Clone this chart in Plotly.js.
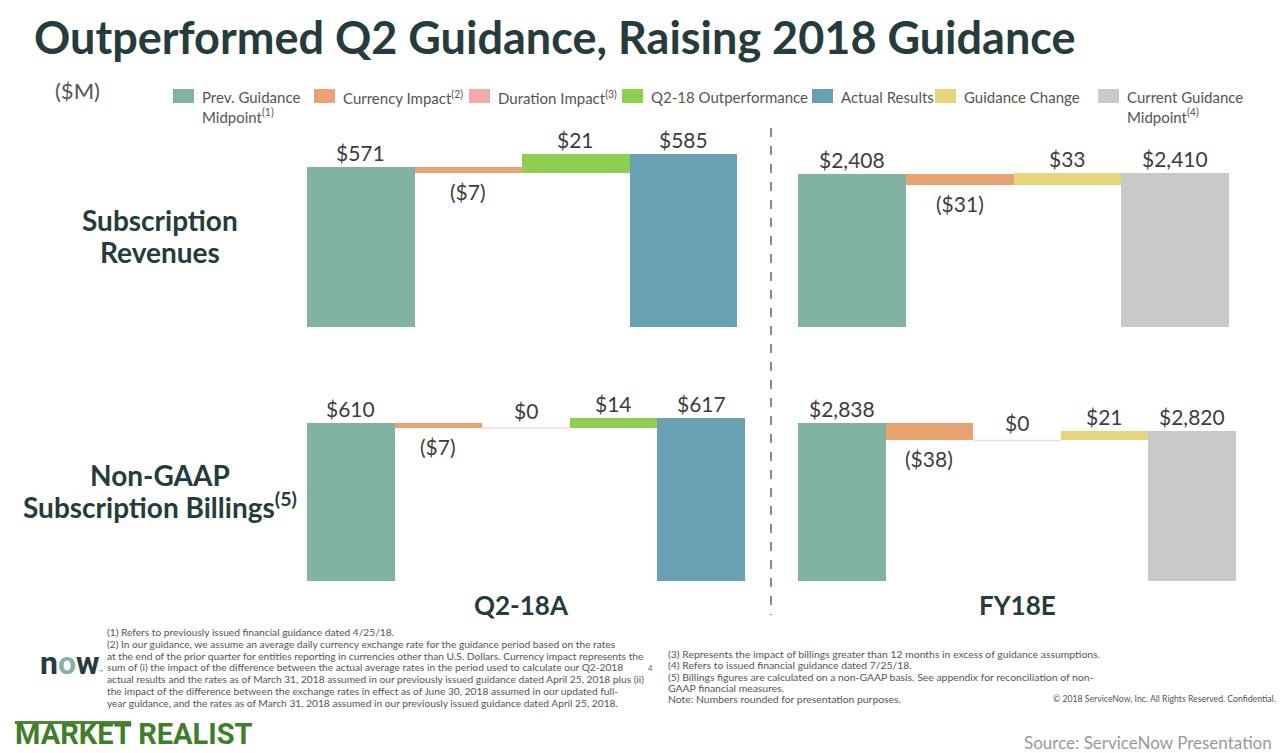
<!DOCTYPE html>
<html>
<head>
<meta charset="utf-8">
<script src="https://cdn.plot.ly/plotly-3.0.1.min.js"></script>
<style>
  html, body { margin: 0; padding: 0; background: #ffffff; }
  #chart { width: 1280px; height: 753px; }
</style>
</head>
<body>
<div id="chart"></div>
<script>
// ---------------- DATA ----------------
const legendNames = ['Prev. Guidance<br>Midpoint<sup>(1)</sup>', 'Currency Impact<sup>(2)</sup>', 'Duration Impact<sup>(3)</sup>',
  'Q2-18 Outperformance', 'Actual Results', 'Guidance Change', 'Current Guidance<br>Midpoint<sup>(4)</sup>'];
const legendKeys = ['prev', 'currency', 'duration', 'outperf', 'actual', 'change', 'current'];

// Subscription revenues, Q2-18A
const q2RevKinds = ['prev', 'currency', 'outperf', 'actual'];
const q2RevMeasures = ['absolute', 'relative', 'relative', 'total'];
const q2RevValues = [571, -7, 21, 585];

// Subscription revenues, FY18E
const fyRevKinds = ['prev', 'currency', 'change', 'current'];
const fyRevMeasures = ['absolute', 'relative', 'relative', 'total'];
const fyRevValues = [2408, -31, 33, 2410];

// Non-GAAP subscription billings, Q2-18A
const q2BillKinds = ['prev', 'currency', 'duration', 'outperf', 'actual'];
const q2BillMeasures = ['absolute', 'relative', 'relative', 'relative', 'total'];
const q2BillValues = [610, -7, 0, 14, 617];

// Non-GAAP subscription billings, FY18E
const fyBillKinds = ['prev', 'currency', 'duration', 'change', 'current'];
const fyBillMeasures = ['absolute', 'relative', 'relative', 'relative', 'total'];
const fyBillValues = [2838, -38, 0, 21, 2820];

const rowLabels = [['Subscription', 'Revenues'], ['Non-GAAP', 'Subscription Billings<sup>(5)</sup>']];
const colLabels = ['Q2-18A', 'FY18E'];

const noteLeft = [
  '(1) Refers to previously issued financial guidance dated 4/25/18.',
  '(2) In our guidance, we assume an average daily currency exchange rate for the guidance period based on the rates',
  'at the end of the prior quarter for entities reporting in currencies other than U.S. Dollars. Currency impact represents the',
  'sum of (i) the impact of the difference between the actual average rates in the period used to calculate our Q2-2018',
  'actual results and the rates as of March 31, 2018 assumed in our previously issued guidance dated April 25, 2018 plus (ii)',
  'the impact of the difference between the exchange rates in effect as of June 30, 2018 assumed in our updated full-',
  'year guidance, and the rates as of March 31, 2018 assumed in our previously issued guidance dated April 25, 2018.'
];
const noteRight = [
  '(3) Represents the impact of billings greater than 12 months in excess of guidance assumptions.',
  '(4) Refers to issued financial guidance dated 7/25/18.',
  '(5) Billings figures are calculated on a non-GAAP basis. See appendix for reconciliation of non-',
  'GAAP financial measures.',
  'Note: Numbers rounded for presentation purposes.'
];

// ---------------- STYLE ----------------
const colors = {
  prev: '#80b4a0', currency: '#eba272', duration: '#f3aaaa', outperf: '#8fcf4f',
  actual: '#67a1b3', change: '#e6d679', current: '#c9c9c9'
};
const FONT = 'Lato, "Open Sans", sans-serif';
const DARK = '#263c3c';
const LABEL = '#3d3d3d';
const W = 1280, H = 753;
const px = x => x / W;
const py = y => 1 - y / H;

function fmt(v) {
  const s = '$' + Math.abs(v).toLocaleString('en-US');
  return v < 0 ? '(' + s + ')' : s;
}

const panels = [
  { kinds: q2RevKinds, measures: q2RevMeasures, values: q2RevValues, xa: 'x', ya: 'y' },
  { kinds: fyRevKinds, measures: fyRevMeasures, values: fyRevValues, xa: 'x2', ya: 'y2' },
  { kinds: q2BillKinds, measures: q2BillMeasures, values: q2BillValues, xa: 'x3', ya: 'y3' },
  { kinds: fyBillKinds, measures: fyBillMeasures, values: fyBillValues, xa: 'x4', ya: 'y4' }
];

const traces = [];
const annotations = [];
const shapes = [];
const LBL = { family: FONT, size: 21, color: LABEL };

panels.forEach(p => {
  let running = 0;
  const bases = [], ys = [];
  const x = p.kinds.map((k, i) => i);
  p.values.forEach((v, i) => {
    const m = p.measures[i];
    if (m === 'relative') {
      bases.push(running); ys.push(v);
      running += v;
    } else {
      bases.push(0); ys.push(v);
      running = v;
    }
    const top = m === 'relative' ? Math.max(bases[i], bases[i] + v) : v;
    const bot = m === 'relative' ? Math.min(bases[i], bases[i] + v) : v;
    if (v < 0) {
      annotations.push({ xref: p.xa, yref: p.ya, x: i, y: bot, yanchor: 'top', yshift: -4,
        text: fmt(v), showarrow: false, font: LBL });
    } else if (v === 0) {
      annotations.push({ xref: p.xa, yref: p.ya, x: i, y: top, yanchor: 'bottom', yshift: 3,
        text: fmt(v), showarrow: false, font: LBL });
      shapes.push({ type: 'line', xref: p.xa, yref: p.ya, x0: i - 0.5, x1: i + 0.5, y0: top, y1: top,
        line: { color: '#f6d9d9', width: 1.5 } });
    } else {
      annotations.push({ xref: p.xa, yref: p.ya, x: i, y: top, yanchor: 'bottom', yshift: 0,
        text: fmt(v), showarrow: false, font: LBL });
    }
  });
  traces.push({
    type: 'bar', x: x, y: ys, base: bases, xaxis: p.xa, yaxis: p.ya,
    marker: { color: p.kinds.map(k => colors[k]), line: { width: 0 } },
    hoverinfo: 'skip', showlegend: false
  });
});

// ---------------- CUSTOM LEGEND ----------------
const legendX = [173, 314, 469, 622, 812, 935, 1098];
legendKeys.forEach((k, i) => {
  shapes.push({ type: 'rect', xref: 'paper', yref: 'paper',
    x0: px(legendX[i]), x1: px(legendX[i] + 21), y0: py(103), y1: py(89),
    fillcolor: colors[k], line: { width: 0 } });
  annotations.push({ xref: 'paper', yref: 'paper', x: px(legendX[i] + 27), y: py(86),
    xanchor: 'left', yanchor: 'top', align: 'left', showarrow: false,
    text: legendNames[i], font: { family: FONT, size: 15, color: '#555555' } });
});

// ---------------- OTHER TEXT ----------------
const texts = [
  { x: 53, y: 90, t: '($M)', size: 22, color: '#555555', xa: 'left' },
  { x: 160, y: 220, t: '<b>' + rowLabels[0][0] + '</b>', size: 28, color: DARK, xa: 'center' },
  { x: 160, y: 252, t: '<b>' + rowLabels[0][1] + '</b>', size: 28, color: DARK, xa: 'center' },
  { x: 160, y: 475, t: '<b>' + rowLabels[1][0] + '</b>', size: 28, color: DARK, xa: 'center' },
  { x: 160, y: 506, t: '<b>' + rowLabels[1][1] + '</b>', size: 28, color: DARK, xa: 'center' },
  { x: 521, y: 605, t: '<b>' + colLabels[0] + '</b>', size: 26, color: DARK, xa: 'center' },
  { x: 1017, y: 605, t: '<b>' + colLabels[1] + '</b>', size: 26, color: DARK, xa: 'center' },
  { x: 650, y: 668, t: '4', size: 8, color: '#666666', xa: 'center' },
  { x: 1278, y: 698, t: '© 2018 ServiceNow, Inc. All Rights Reserved. Confidential.', size: 8.7, color: '#555555', xa: 'right' },
  { x: 38, y: 663, t: '<b>n<span style="color:#81b5a1">o</span>w</b><span style="font-size:6px">™</span>', size: 32, color: '#263c3c', xa: 'left', fam: 'Roboto, sans-serif' }
];
texts.forEach(o => {
  annotations.push({ xref: 'paper', yref: 'paper', x: px(o.x), y: py(o.y), xanchor: o.xa, yanchor: 'middle',
    align: o.xa === 'right' ? 'right' : (o.xa === 'center' ? 'center' : 'left'), showarrow: false, text: o.t,
    font: { family: o.fam || FONT, size: o.size, color: o.color } });
});
// bottom-edge texts
annotations.push({ xref: 'paper', yref: 'paper', x: px(13), y: 0, xanchor: 'left', yanchor: 'bottom', yshift: 0,
  showarrow: false, text: '<b>MARKET REALIST</b>',
  font: { family: '"Liberation Sans Narrow", Roboto, sans-serif', size: 29, color: '#3f7f2a' } });
annotations.push({ xref: 'paper', yref: 'paper', x: px(1274), y: 0, xanchor: 'right', yanchor: 'bottom', yshift: -2,
  showarrow: false, text: 'Source: ServiceNow Presentation',
  font: { family: FONT, size: 17, color: '#9a9a9a' } });

noteLeft.forEach((t, i) => {
  annotations.push({ xref: 'paper', yref: 'paper', x: px(105), y: py(632 + i * 11.8), xanchor: 'left', yanchor: 'middle',
    align: 'left', showarrow: false, text: t, font: { family: FONT, size: 10.2, color: '#555555' } });
});
noteRight.forEach((t, i) => {
  annotations.push({ xref: 'paper', yref: 'paper', x: px(666), y: py(654 + i * 11.3), xanchor: 'left', yanchor: 'middle',
    align: 'left', showarrow: false, text: t, font: { family: FONT, size: 10.4, color: '#555555' } });
});

// divider and brand line
shapes.push({ type: 'line', xref: 'paper', yref: 'paper', x0: px(771), x1: px(771), y0: py(128), y1: py(615),
  line: { color: '#8a8a8a', width: 2, dash: 'dash' } });
shapes.push({ type: 'line', xref: 'paper', yref: 'paper', x0: px(15), x1: px(131), y0: py(722.5), y1: py(722.5),
  line: { color: '#4a8a2e', width: 3 } });

function xax(x0, x1, n) {
  return { domain: [px(x0), px(x1)], range: [-0.5, n - 0.5], visible: false, fixedrange: true };
}
function yax(top, bot, lo, hi) {
  return { domain: [py(bot), py(top)], range: [lo, hi], visible: false, fixedrange: true };
}

const layout = {
  width: W, height: H,
  margin: { l: 0, r: 0, t: 0, b: 0 },
  paper_bgcolor: '#ffffff', plot_bgcolor: 'rgba(0,0,0,0)',
  title: { text: '<b>Outperformed Q2 Guidance, Raising 2018 Guidance</b>', x: px(34), xanchor: 'left',
    xref: 'paper', y: py(38), yanchor: 'middle', yref: 'paper',
    font: { family: FONT, size: 45, color: DARK } },
  bargap: 0,
  showlegend: false,
  xaxis: Object.assign(xax(307, 737, 4), { anchor: 'y' }),
  yaxis: Object.assign(yax(130, 327, 397.1, 611.2), { anchor: 'x' }),
  xaxis2: Object.assign(xax(798, 1229, 4), { anchor: 'y2' }),
  yaxis2: Object.assign(yax(130, 327, 1970.9, 2533.7), { anchor: 'x2' }),
  xaxis3: Object.assign(xax(307, 745, 5), { anchor: 'y3' }),
  yaxis3: Object.assign(yax(385, 581, 387.5, 663.5), { anchor: 'x3' }),
  xaxis4: Object.assign(xax(798, 1236, 5), { anchor: 'y4' }),
  yaxis4: Object.assign(yax(385, 581, 2494.5, 2920.6), { anchor: 'x4' }),
  annotations: annotations,
  shapes: shapes
};

Plotly.newPlot('chart', traces, layout, { displayModeBar: false, staticPlot: true });
</script>
</body>
</html>
